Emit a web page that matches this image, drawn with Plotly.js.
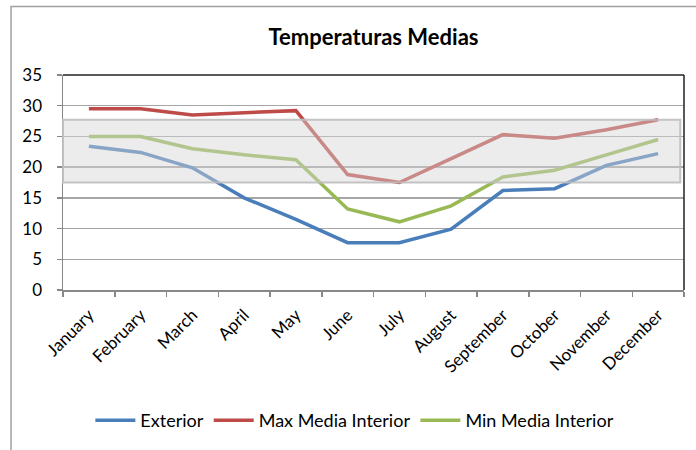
<!DOCTYPE html>
<html><head><meta charset="utf-8">
<script src="https://cdn.plot.ly/plotly-3.0.1.min.js"></script>
<style>html,body{margin:0;padding:0;background:#fff}#chart{width:696px;height:450px}</style>
</head><body><div id="chart"></div>
<script>
const months = ["January","February","March","April","May","June","July","August","September","October","November","December"];
const exterior = [23.4,22.4,19.9,15.0,11.5,7.7,7.7,9.9,16.2,16.5,20.3,22.2];
const maxInterior = [29.5,29.5,28.5,28.8,29.2,18.8,17.5,21.4,25.3,24.7,26.1,27.7];
const minInterior = [25.0,25.0,23.0,22.0,21.2,13.2,11.1,13.7,18.4,19.5,22.0,24.5];
const bandLow = 17.5, bandHigh = 27.7;
const yTicks = [0,5,10,15,20,25,30,35];

const font = "Lato, 'Open Sans', sans-serif";
function tr(name, y, color){
  return {x: months, y: y, name: name, type:'scatter', mode:'lines',
    line:{color:color, width:3.5}, hoverinfo:'skip'};
}
const data = [
  tr("Exterior", exterior, "#4A7EBB"),
  tr("Max Media Interior", maxInterior, "#BE4B48"),
  tr("Min Media Interior", minInterior, "#98B954")
];
const layout = {
  width:696, height:450,
  margin:{l:63, r:12, t:75, b:159},
  paper_bgcolor:'#fff', plot_bgcolor:'#fff',
  font:{family:font, size:16, color:'#000'},
  title:{text:"Temperaturas Medias", x:0.5, xanchor:'center', y:0.918, yanchor:'middle',
    xref:'paper', font:{family:font, size:22, weight:'bold', color:'#000'}},
  showlegend:true,
  legend:{orientation:'h', x:0.47, xanchor:'center', y:-0.6, yanchor:'middle',
    font:{family:font, size:18, color:'#000'}, itemwidth:40, traceorder:'normal'},
  xaxis:{type:'category', range:[-0.5,11.5], tickson:'boundaries', ticks:'outside', ticklen:5,
    tickcolor:'#888', tickwidth:1.5, showline:true, linecolor:'#888', linewidth:1.5,
    showgrid:false, tickangle:-45, tickfont:{family:font, size:17, color:'#000'},
    ticklabelstandoff:7, fixedrange:true},
  yaxis:{range:[0,35], tickvals:yTicks, ticktext:yTicks.map(String), ticks:'outside', ticklen:5,
    tickcolor:'#888', tickwidth:1.5, showline:true, linecolor:'#888', linewidth:1.5,
    showgrid:true, gridcolor:'#a6a6a6', gridwidth:1.5, zeroline:false,
    tickfont:{family:font, size:17, color:'#000'}, ticklabelstandoff:11, fixedrange:true},
  shapes:[
    {type:'rect', xref:'paper', yref:'y', x0:0, x1:0.994, y0:bandLow, y1:bandHigh,
      fillcolor:'rgba(212,212,212,0.45)', line:{color:'rgba(190,190,190,0.9)', width:2}, layer:'above'},
    {type:'line', xref:'paper', yref:'paper', x0:0, x1:1, y0:1, y1:1, line:{color:'#222', width:1.5}, layer:'above'},
    {type:'line', xref:'paper', yref:'paper', x0:1, x1:1, y0:0, y1:1, line:{color:'#222', width:1.5}, layer:'above'},
    {type:'rect', xref:'paper', yref:'paper', x0:-0.0837, x1:1.05, y0:-0.76, y1:1.319,
      line:{color:'#a0a0a0', width:1.5}, fillcolor:'rgba(0,0,0,0)', layer:'below'}
  ]
};
Plotly.newPlot('chart', data, layout, {displayModeBar:false, staticPlot:true});
</script></body></html>
